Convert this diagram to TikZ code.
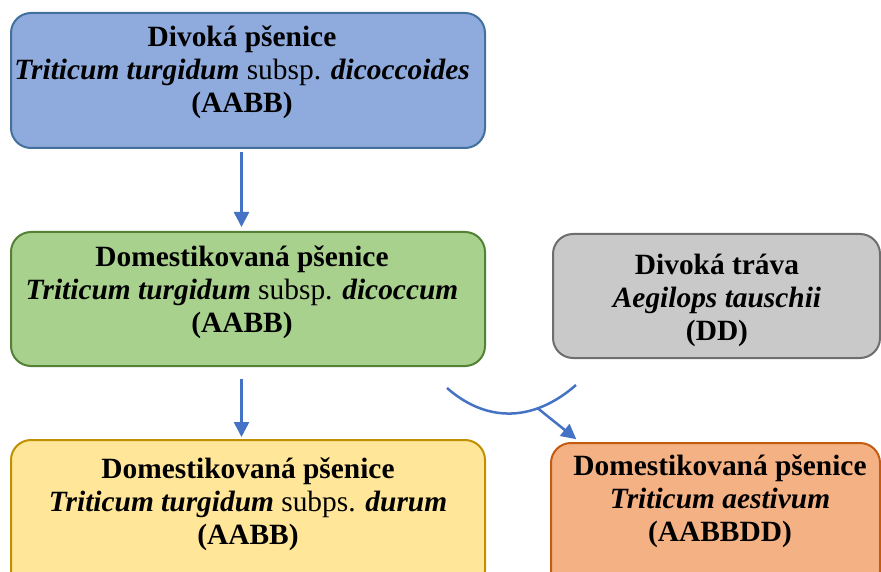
\documentclass[tikz,border=0pt]{standalone}
\usepackage{fontspec}
\setmainfont{Liberation Serif}
\usetikzlibrary{arrows.meta}
\definecolor{bfill}{HTML}{8FAADC}\definecolor{bdraw}{HTML}{41719C}
\definecolor{gfill}{HTML}{A9D18E}\definecolor{gdraw}{HTML}{538135}
\definecolor{sfill}{HTML}{C9C9C9}\definecolor{sdraw}{HTML}{6E6E6E}
\definecolor{yfill}{HTML}{FFE699}\definecolor{ydraw}{HTML}{BF9000}
\definecolor{ofill}{HTML}{F4B183}\definecolor{odraw}{HTML}{C55A11}
\definecolor{arr}{HTML}{4472C4}
\begin{document}
\begin{tikzpicture}[x=1pt,y=-1pt,
  box/.style={draw, line width=2pt, rounded corners=20pt},
  txt/.style={align=center, inner sep=0pt, font=\fontsize{29.4}{33}\selectfont\bfseries},
  conn/.style={draw=arr, line width=2.5pt},
  arrowc/.style={conn, -{Triangle[width=15pt,length=15pt]}}]
\useasboundingbox (0,0) rectangle (881,572);
\draw[box, fill=bfill, draw=bdraw] (11,13) rectangle (485,148);
\coordinate (b1s) at (241.5,148);
\draw[box, fill=gfill, draw=gdraw] (11,232) rectangle (485,366);
\coordinate (b2n) at (241.5,232);
\coordinate (b2s) at (241.5,366);
\draw[box, fill=sfill, draw=sdraw] (553,234) rectangle (880,358);
\draw[box, fill=yfill, draw=ydraw] (11,440) rectangle (485,590);
\coordinate (b4n) at (241.5,440);
\draw[box, fill=ofill, draw=odraw] (551,443) rectangle (880,590);
\coordinate (b5t) at (581,443);

\node[txt] (t1) at (242,72.5) {Divoká pšenice\\\textit{Triticum turgidum}\textmd{ subsp. }\textit{dicoccoides}\\(AABB)};
\node[txt] (t2) at (242,292) {Domestikovaná pšenice\\\textit{Triticum turgidum}\textmd{ subsp. }\textit{dicoccum}\\(AABB)};
\node[txt] (t3) at (717,300) {Divoká tráva\\\textit{Aegilops tauschii}\\(DD)};
\node[txt] (t4) at (248,504.5) {Domestikovaná pšenice\\\textit{Triticum turgidum}\textmd{ subps. }\textit{durum}\\(AABB)};
\node[txt] (t5) at (720,501.5) {Domestikovaná pšenice\\\textit{Triticum aestivum}\\(AABBDD)};

\draw[arrowc, shorten <=4pt, shorten >=5pt] (b1s) -- (b2n);
\draw[arrowc, shorten <=13pt, shorten >=3pt] (b2s) -- (b4n);
\coordinate (c1) at (447,388);
\coordinate (c2) at (576,385);
\draw[conn] (c1) .. controls (488,424) and (535,421) .. coordinate[pos=0.7] (m) (c2);
\draw[arrowc, shorten >=6pt] (m) -- (b5t);
\end{tikzpicture}
\end{document}
